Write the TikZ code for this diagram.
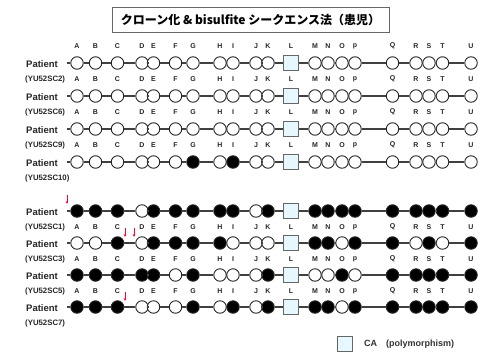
\documentclass[tikz,border=0pt]{standalone}
\usepackage{fontspec}
\setmainfont{Liberation Sans}
\newfontfamily\jpfont{Noto Sans CJK JP}
\usetikzlibrary{arrows.meta}
\begin{document}
\begin{tikzpicture}[x=1pt,y=-1pt,
  cpg/.style={circle,draw=black!85,line width=0.9pt,minimum size=12.5pt,inner sep=0pt},
  cO/.style={cpg,fill=white},
  cF/.style={cpg,fill=black},
  cL/.style={rectangle,draw=black!60,fill=cyan!10,line width=0.8pt,minimum size=15pt,inner sep=0pt},
  bb/.style={draw=black!75,line width=1.1pt},
  lett/.style={font=\bfseries\fontsize{7}{8}\selectfont,text=black!85,inner sep=0pt},
  pat/.style={font=\bfseries\fontsize{9.5}{10}\selectfont,text=black!85,anchor=west,inner sep=0pt},
  yu/.style={font=\bfseries\fontsize{7.8}{8.5}\selectfont,text=black!85,anchor=west,inner sep=0pt},
  redarr/.style={draw=red!80!magenta,line width=0.7pt,-{Stealth[length=3pt,width=2.6pt]}}]
\useasboundingbox (0,0) rectangle (478,356);
\def\xarr{{77,95.5,117.5,142,153.5,175.5,193,220,233,256,268,291,315,328,342,355,392.5,416,429,442.5,471}}
\def\letters{A,B,C,D,E,F,G,H,I,J,K,L,M,N,O,p,Q,R,S,T,U}
% title
\node[draw=black!60,line width=0.8pt,minimum width=277pt,minimum height=25pt,inner sep=0pt]
  (title) at (250.5,19.5) {\jpfont\bfseries\fontsize{12}{13}\selectfont クローン化 \& bisulfite シークエンス法（患児）};
% letter rows
\foreach \yy [count=\k] in {46,79,112,145,227,259,291}{
  \foreach \l [count=\i] in \letters{
    \pgfmathsetmacro\xx{\xarr[\i-1]}
    \node[lett] (let\k-\i) at (\xx,\yy) {\l};
  }
}
% rows
\newcommand\seqrow[4]{%
  \foreach \t [count=\i] in {#3}{
    \pgfmathsetmacro\xx{\xarr[\i-1]}
    \node[\t] (#1-\i) at (\xx,#2) {};
  }
  \coordinate (#1-s) at (67,#2);
  \draw[bb] (#1-s) -- (#1-1);
  \foreach \i [evaluate=\i as \j using int(\i+1)] in {1,...,20}{
    \draw[bb] (#1-\i) -- (#1-\j);
  }
  \node[pat] (#1-pat) at (26,#2+1) {Patient};
  \node[yu] (#1-yu) at (25,#2+16) {(#4)};
}
\seqrow{r1}{63}{cO,cO,cO,cO,cO,cO,cO,cO,cO,cO,cO,cL,cO,cO,cO,cO,cO,cO,cO,cO,cO}{YU52SC2}
\seqrow{r2}{96}{cO,cO,cO,cO,cO,cO,cO,cO,cO,cO,cO,cL,cO,cO,cO,cO,cO,cO,cO,cO,cO}{YU52SC6}
\seqrow{r3}{129}{cO,cO,cO,cO,cO,cO,cO,cO,cO,cO,cO,cL,cO,cO,cO,cO,cO,cO,cO,cO,cO}{YU52SC9}
\seqrow{r4}{162}{cO,cO,cO,cO,cO,cO,cF,cO,cF,cO,cO,cL,cO,cO,cO,cO,cO,cO,cO,cO,cO}{YU52SC10}
\seqrow{r5}{211}{cF,cF,cF,cO,cF,cF,cF,cF,cF,cO,cF,cL,cF,cF,cF,cF,cF,cF,cF,cF,cF}{YU52SC1}
\seqrow{r6}{243}{cO,cO,cF,cO,cF,cF,cF,cF,cO,cO,cO,cL,cF,cF,cO,cF,cF,cO,cF,cO,cF}{YU52SC3}
\seqrow{r7}{275}{cF,cF,cF,cF,cF,cO,cF,cO,cO,cO,cF,cL,cO,cO,cF,cO,cF,cF,cF,cF,cF}{YU52SC5}
\seqrow{r8}{307}{cF,cF,cF,cO,cO,cO,cF,cO,cF,cO,cF,cL,cF,cF,cO,cF,cF,cF,cF,cF,cF}{YU52SC7}
% red arrows
\coordinate (a1s) at (67,195); \coordinate (a1e) at (67,204);
\coordinate (a2s) at (125,228); \coordinate (a2e) at (125,237);
\coordinate (a3s) at (134,228); \coordinate (a3e) at (134,237);
\coordinate (a4s) at (125,292); \coordinate (a4e) at (125,301);
\draw[redarr] (a1s) -- (a1e);
\draw[redarr] (a2s) -- (a2e);
\draw[redarr] (a3s) -- (a3e);
\draw[redarr] (a4s) -- (a4e);
% legend
\node[cL] (leg) at (344.5,344) {};
\node[anchor=west,inner sep=0pt,font=\bfseries\fontsize{9}{10}\selectfont,text=black!80] (legt) at (364,344) {CA\hspace{9pt}(polymorphism)};
\end{tikzpicture}
\end{document}
